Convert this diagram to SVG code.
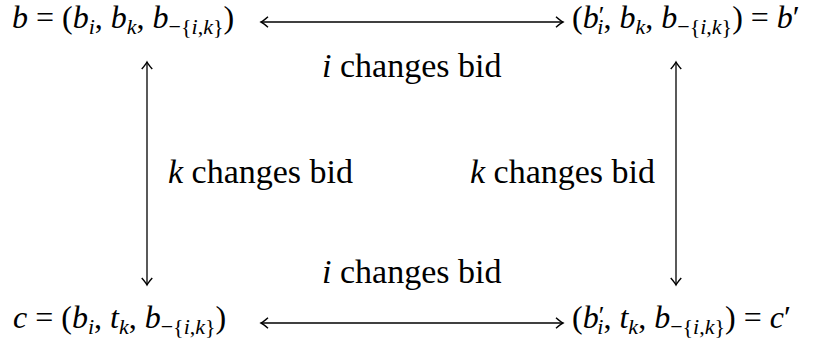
<svg xmlns="http://www.w3.org/2000/svg" width="821" height="350" viewBox="0 0 821 350">
<defs>
<marker id="ah" markerUnits="userSpaceOnUse" markerWidth="14" markerHeight="14" viewBox="-8 -6 10 12" refX="0" refY="0" orient="auto-start-reverse">
<path d="M-6,-4.5 Q-2,-1 0,0 Q-2,1 -6,4.5" stroke="#000" stroke-width="1.2" fill="none"/>
</marker>
</defs>
<rect width="821" height="350" fill="#fff"/>
<g id="connectors" stroke="#000" stroke-width="1.3" fill="none">
<line x1="261" y1="22" x2="563" y2="22" marker-start="url(#ah)" marker-end="url(#ah)"/>
<line x1="261" y1="323" x2="563" y2="323" marker-start="url(#ah)" marker-end="url(#ah)"/>
<line x1="147" y1="62" x2="147" y2="285" marker-start="url(#ah)" marker-end="url(#ah)"/>
<line x1="676" y1="62" x2="676" y2="285" marker-start="url(#ah)" marker-end="url(#ah)"/>
</g>
<g id="label-i-top"><text x="322" y="77" font-family="Liberation Serif" font-size="34"><tspan font-style="italic">i</tspan> changes bid</text></g>
<g id="label-k-left"><text x="168" y="183" font-family="Liberation Serif" font-size="34"><tspan font-style="italic">k</tspan> changes bid</text></g>
<g id="label-k-right"><text x="470" y="183" font-family="Liberation Serif" font-size="34"><tspan font-style="italic">k</tspan> changes bid</text></g>
<g id="label-i-bottom"><text x="322" y="283" font-family="Liberation Serif" font-size="34"><tspan font-style="italic">i</tspan> changes bid</text></g>
<g id="node-b"><text x="12" y="28" font-family="Liberation Serif" font-size="32"><tspan font-style="italic">b</tspan> = (<tspan font-style="italic">b</tspan><tspan font-style="italic" font-size="22" dy="6">i</tspan><tspan dy="-6">, </tspan><tspan font-style="italic">b</tspan><tspan font-style="italic" font-size="22" dy="6">k</tspan><tspan dy="-6">, </tspan><tspan font-style="italic">b</tspan><tspan font-size="22" dy="6">−{</tspan><tspan font-style="italic" font-size="22">i</tspan><tspan font-size="22">,</tspan><tspan font-style="italic" font-size="22">k</tspan><tspan font-size="22">}</tspan><tspan dy="-6">)</tspan></text></g>
<g id="node-bprime"><text x="572" y="28" font-family="Liberation Serif" font-size="32">(<tspan font-style="italic">b</tspan><tspan font-size="26" dy="-4">′</tspan><tspan font-style="italic" font-size="22" dx="-7" dy="10">i</tspan><tspan dy="-6">, </tspan><tspan font-style="italic">b</tspan><tspan font-style="italic" font-size="22" dy="6">k</tspan><tspan dy="-6">, </tspan><tspan font-style="italic">b</tspan><tspan font-size="22" dy="6">−{</tspan><tspan font-style="italic" font-size="22">i</tspan><tspan font-size="22">,</tspan><tspan font-style="italic" font-size="22">k</tspan><tspan font-size="22">}</tspan><tspan dy="-6">) = </tspan><tspan font-style="italic">b</tspan>′</text></g>
<g id="node-c"><text x="13" y="328" font-family="Liberation Serif" font-size="32"><tspan font-style="italic">c</tspan> = (<tspan font-style="italic">b</tspan><tspan font-style="italic" font-size="22" dy="6">i</tspan><tspan dy="-6">, </tspan><tspan font-style="italic">t</tspan><tspan font-style="italic" font-size="22" dy="6">k</tspan><tspan dy="-6">, </tspan><tspan font-style="italic">b</tspan><tspan font-size="22" dy="6">−{</tspan><tspan font-style="italic" font-size="22">i</tspan><tspan font-size="22">,</tspan><tspan font-style="italic" font-size="22">k</tspan><tspan font-size="22">}</tspan><tspan dy="-6">)</tspan></text></g>
<g id="node-cprime"><text x="572" y="328" font-family="Liberation Serif" font-size="32">(<tspan font-style="italic">b</tspan><tspan font-size="26" dy="-4">′</tspan><tspan font-style="italic" font-size="22" dx="-7" dy="10">i</tspan><tspan dy="-6">, </tspan><tspan font-style="italic">t</tspan><tspan font-style="italic" font-size="22" dy="6">k</tspan><tspan dy="-6">, </tspan><tspan font-style="italic">b</tspan><tspan font-size="22" dy="6">−{</tspan><tspan font-style="italic" font-size="22">i</tspan><tspan font-size="22">,</tspan><tspan font-style="italic" font-size="22">k</tspan><tspan font-size="22">}</tspan><tspan dy="-6">) = </tspan><tspan font-style="italic">c</tspan>′</text></g>
</svg>
